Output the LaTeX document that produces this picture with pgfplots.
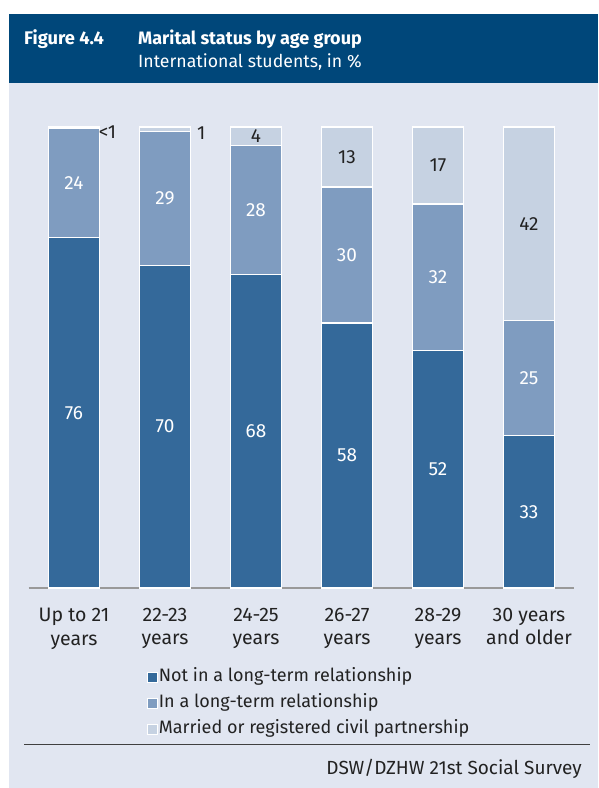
\documentclass[border=0pt]{standalone}
\usepackage{fontspec}
\setmainfont{Fira Sans}
\usepackage{pgfplots}
\usepackage{pgfplotstable}
\pgfplotsset{compat=1.18}
\definecolor{cdark}{HTML}{34699A}
\definecolor{cmed}{HTML}{7F9CC0}
\definecolor{clight}{HTML}{C6D2E2}
\definecolor{cbg}{HTML}{E1E6F1}
\definecolor{chdr}{HTML}{00477A}
\definecolor{ctext}{HTML}{222222}
\pgfplotstableread{
x notin inrel married
0 76   23.6 0.4
1 70   29   1
2 68   28   4
3 57.5 29.5 13
4 51.5 31.8 16.7
5 33   25   42
}\datatab
\pgfplotstableread{
x y label
0 38 76
0 87.8 24
1 35 70
1 84.5 29
2 34 68
2 82 28
3 28.75 58
3 72.25 30
4 25.75 52
4 67.4 32
5 16.5 33
5 45.5 25
}\whitelabels
\pgfplotstableread{
x y label
2 98 4
3 93.5 13
4 91.65 17
5 79 42
}\darklabels
\pgfplotstableread{
x y label
0.27 98.9 <1
1.35 98.7 1
}\outlabels
\pgfplotsset{geom/.style={
  at={(28.5pt,200pt)}, anchor=south west,
  scale only axis, width=546pt, height=461pt,
  xmin=-0.5, xmax=5.5, ymin=0, ymax=100, clip=false}}
\begin{document}
\begin{tikzpicture}
\fill[white] (0pt,0pt) rectangle (598pt,788pt);
\fill[cbg] (9pt,0pt) rectangle (598pt,705pt);
\fill[chdr] (9pt,705pt) rectangle (598pt,774pt);
\node[anchor=base west, text=white, inner sep=0pt, font=\bfseries\fontsize{18.3}{21}\selectfont] at (24pt,743pt) {Figure 4.4};
\node[anchor=base west, text=white, inner sep=0pt, font=\bfseries\fontsize{18}{21}\selectfont] at (138pt,743pt) {Marital status by age group};
\node[anchor=base west, text=white, inner sep=0pt, font=\fontsize{17.7}{21}\selectfont] at (138pt,720pt) {International students, in \%};
\draw[line width=1pt, black!75] (24pt,43pt) -- (590pt,43pt);
\node[anchor=base east, text=ctext, inner sep=0pt, font=\fontsize{19}{22}\selectfont] at (582pt,13pt) {DSW/DZHW 21st Social Survey};
\begin{axis}[
  geom,
  ybar stacked, bar width=51pt,
  axis x line*=bottom, axis y line=none,
  x axis line style={draw=black!40, line width=1.5pt},
  xtick=data,
  xticklabels={{Up to 21\\years},{22-23\\years},{24-25\\years},{26-27\\years},{28-29\\years},{30 years\\and older}},
  xtick style={draw=none},
  xticklabel style={align=center, anchor=north, inner sep=0pt, text=ctext, font=\fontsize{19.5}{23.5}\selectfont, yshift=-20pt},
  legend style={at={(0.216,-0.173)}, anchor=north west, draw=none, fill=none,
    font=\fontsize{18}{21}\selectfont, text=ctext, row sep=7pt, inner sep=0pt,
    nodes={inner sep=1pt, text height=13pt, text depth=4pt}},
  legend cell align=left,
]
\addplot[fill=cdark, draw=white, line width=1.2pt,
  legend image code/.code={\draw[fill=cdark, draw=white, line width=0.8pt] (0pt,-5pt) rectangle (10.5pt,5.5pt);}]
  table[x=x, y=notin] {\datatab};
\addlegendentry{Not in a long-term relationship}
\addplot[fill=cmed, draw=white, line width=1.2pt,
  legend image code/.code={\draw[fill=cmed, draw=white, line width=0.8pt] (0pt,-5pt) rectangle (10.5pt,5.5pt);}]
  table[x=x, y=inrel] {\datatab};
\addlegendentry{In a long-term relationship}
\addplot[fill=clight, draw=white, line width=1.2pt,
  legend image code/.code={\draw[fill=clight, draw=white, line width=0.8pt] (0pt,-5pt) rectangle (10.5pt,5.5pt);}]
  table[x=x, y=married] {\datatab};
\addlegendentry{Married or registered civil partnership}
\end{axis}
\begin{axis}[geom, hide axis,
  nodes near coords, point meta=explicit symbolic,
  every node near coord/.append style={anchor=center, inner sep=0pt, font=\fontsize{19}{22}\selectfont}]
\addplot[only marks, mark=none, every node near coord/.append style={text=white}]
  table[x=x, y=y, meta=label] {\whitelabels};
\addplot[only marks, mark=none, every node near coord/.append style={text=ctext}]
  table[x=x, y=y, meta=label] {\darklabels};
\addplot[only marks, mark=none, every node near coord/.append style={text=ctext, anchor=west}]
  table[x=x, y=y, meta=label] {\outlabels};
\end{axis}
\end{tikzpicture}
\end{document}
